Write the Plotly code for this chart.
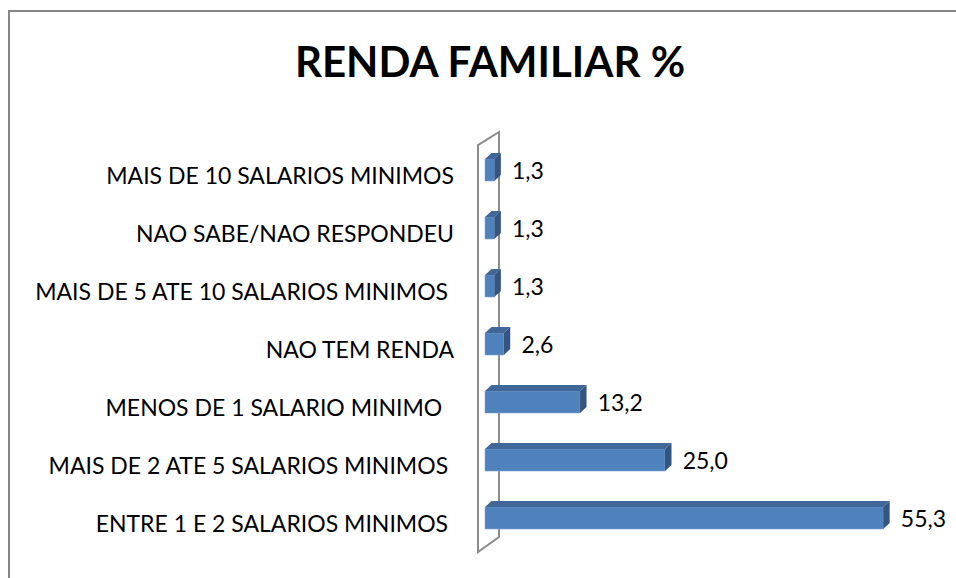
import plotly.graph_objects as go

categories = [
    "ENTRE 1 E 2 SALARIOS MINIMOS\u00a0",
    "MAIS DE 2 ATE 5 SALARIOS MINIMOS\u00a0",
    "MENOS DE 1 SALARIO MINIMO\u00a0\u00a0",
    "NAO TEM RENDA",
    "MAIS DE 5 ATE 10 SALARIOS MINIMOS\u00a0",
    "NAO SABE/NAO RESPONDEU",
    "MAIS DE 10 SALARIOS MINIMOS",
]
values = [55.3, 25.0, 13.2, 2.6, 1.3, 1.3, 1.3]
value_labels = ["55,3", "25,0", "13,2", "2,6", "1,3", "1,3", "1,3"]

FRONT = "#4F81BD"
TOP = "#3F6797"
SIDE = "#345580"
WALL = "#8C8C8C"

# geometry (pixels -> data units)
PX_X = 7.2      # px per value unit
PX_Y = 58.0     # px per category
dx = 6.5 / PX_X
dy = 6.0 / PX_Y
bw = 22.0 / PX_Y
shift = 6.0 / PX_Y

pos = list(range(len(categories)))

fig = go.Figure()
fig.add_trace(go.Bar(
    x=values, y=pos, orientation="h", width=bw, offset=-bw / 2 + shift,
    marker=dict(color=FRONT, line=dict(color="#7FA3D0", width=0.6)),
    hoverinfo="skip", showlegend=False,
))

for p, v in zip(pos, values):
    bot = p + shift - bw / 2
    top = p + shift + bw / 2
    fig.add_trace(go.Scatter(
        x=[0, dx, v + dx, v, 0], y=[top, top + dy, top + dy, top, top],
        fill="toself", fillcolor=TOP, mode="lines", line=dict(width=0),
        hoverinfo="skip", showlegend=False))
    fig.add_trace(go.Scatter(
        x=[v, v + dx, v + dx, v, v], y=[bot, bot + dy, top + dy, top, bot],
        fill="toself", fillcolor=SIDE, mode="lines", line=dict(width=0),
        hoverinfo="skip", showlegend=False))

fig.add_trace(go.Scatter(
    x=[v + dx + 1.55 for v in values], y=[p + shift - 3.0 / PX_Y for p in pos],
    text=value_labels, mode="text", textposition="middle right",
    textfont=dict(family="Lato", size=23, color="#000000"),
    hoverinfo="skip", showlegend=False))

# side wall of the 3D axis
n = len(categories)
wx0, wx1 = -7.0 / PX_X, 14.0 / PX_X
wy_b0, wy_b1 = -0.483, -0.224
wy_t0, wy_t1 = n - 1 + 0.534, n - 1 + 0.759
fig.add_shape(type="path",
              path=f"M {wx0},{wy_b0} L {wx0},{wy_t0} L {wx1},{wy_t1} L {wx1},{wy_b1} Z",
              xref="x", yref="y", line=dict(color=WALL, width=2), layer="below")

# outer border
fig.add_shape(type="rect", xref="paper", yref="paper",
              x0=(9 - 463) / 487, x1=(970 - 463) / 487,
              y0=(560 - 590) / 440, y1=(560 - 11) / 440,
              line=dict(color="#868686", width=2))

fig.update_layout(
    width=956, height=578,
    margin=dict(l=463, r=6, t=120, b=18),
    plot_bgcolor="white", paper_bgcolor="white",
    title=dict(text="<b>RENDA FAMILIAR %</b>", x=490 / 956, xanchor="center",
               y=1 - 62 / 578, yanchor="middle",
               font=dict(family="Lato", size=42, color="#000000")),
    xaxis=dict(visible=False, range=[-22 / PX_X, (950 - 485) / PX_X], fixedrange=True),
    yaxis=dict(range=[-(560 - 524) / PX_Y, (524 - 120) / PX_Y],
               tickvals=pos, ticktext=categories, ticks="", showgrid=False,
               zeroline=False, showline=False, ticklabelstandoff=8,
               tickfont=dict(family="Lato", size=23, color="#000000")),
)

fig.write_html("out.html", config={"displayModeBar": False},
               post_script="document.body.style.margin='0';document.body.style.overflow='hidden';")
